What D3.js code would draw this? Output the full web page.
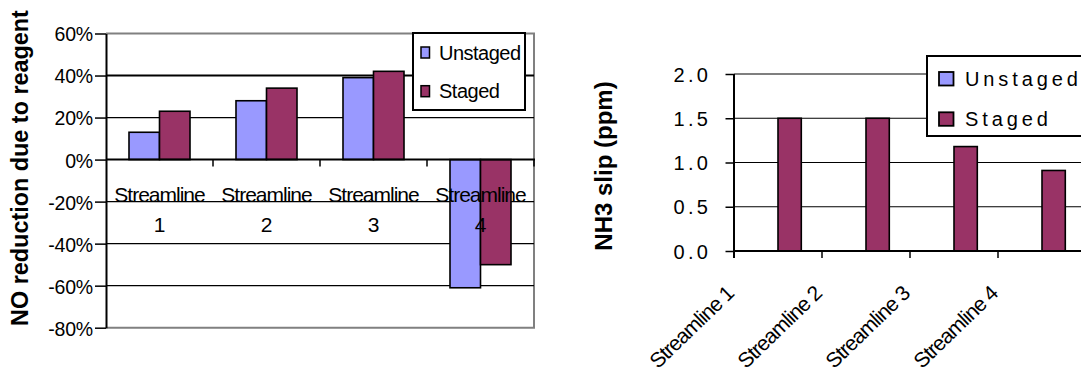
<!DOCTYPE html>
<html>
<head>
<meta charset="utf-8">
<script src="https://cdn.jsdelivr.net/npm/d3@7/dist/d3.min.js"></script>
<style>
  html, body { margin: 0; padding: 0; background: #fff; }
  svg { display: block; }
  svg text { font-family: "Liberation Sans", Arial, Helvetica, sans-serif; }
</style>
</head>
<body>
<svg id="chart" width="1081" height="376"></svg>
<script>
// Streamline categories and the two injection modes
const categories = ["Streamline 1", "Streamline 2", "Streamline 3", "Streamline 4"];
const seriesNames = ["Unstaged", "Staged"];

// NO reduction due to reagent (%)
const noUnstaged = [13, 28, 39, -61];
const noStaged = [23, 34, 42, -50];
const noTicks = [60, 40, 20, 0, -20, -40, -60, -80];

// NH3 slip (ppm)
const nh3Unstaged = [0, 0, 0, 0];
const nh3Staged = [1.5, 1.5, 1.18, 0.91];
const nh3Ticks = [0, 0.5, 1.0, 1.5, 2.0];

const colors = { Unstaged: "#9999ff", Staged: "#993366" };
const FONT = "'Liberation Sans', Arial, Helvetica, sans-serif";

const svg = d3.select("#chart");

function rows(unstaged, staged) {
  return categories.map((c, i) => ({ cat: c, values: [
    { key: "Unstaged", value: unstaged[i] },
    { key: "Staged", value: staged[i] }
  ]}));
}

/* ---------------- Left panel: NO reduction ---------------- */
{
  const g = svg.append("g");
  const x = d3.scaleBand().domain(categories).range([106, 534]);
  const xs = d3.scaleBand().domain(seriesNames).range([0, x.bandwidth()]).paddingOuter(0.754);
  const y = d3.scaleLinear().domain([-80, 60]).range([327.7, 33.5]);
  const [x0, x1] = x.range();

  // plot-area frame (top, right, bottom)
  g.append("path")
    .attr("d", `M${x0},${y(60)}H${x1}V${y(-80)}H${x0}`)
    .attr("fill", "none").attr("stroke", "#808080").attr("stroke-width", 2);

  // gridlines
  g.selectAll("line.grid").data(noTicks.filter(t => t !== 0 && t !== 60 && t !== -80))
    .join("line").attr("class", "grid")
    .attr("x1", x0).attr("x2", x1)
    .attr("y1", d => y(d)).attr("y2", d => y(d))
    .attr("stroke", "#000").attr("stroke-width", d => d === 40 ? 2 : 1.2);

  // bars
  const grp = g.selectAll("g.cat").data(rows(noUnstaged, noStaged)).join("g")
    .attr("transform", d => `translate(${x(d.cat)},0)`);
  grp.selectAll("rect").data(d => d.values).join("rect")
    .attr("x", d => xs(d.key)).attr("width", xs.bandwidth())
    .attr("y", d => y(Math.max(0, d.value)))
    .attr("height", d => Math.abs(y(d.value) - y(0)))
    .attr("fill", d => colors[d.key]).attr("stroke", "#000").attr("stroke-width", 1.6);

  // value axis
  const ya = g.append("g").attr("transform", `translate(${x0},0)`)
    .call(d3.axisLeft(y).tickValues(noTicks).tickSize(11).tickSizeOuter(0).tickPadding(2)
      .tickFormat(d => d + "%"));
  ya.attr("font-family", FONT);
  ya.select(".domain").attr("stroke", "#000").attr("stroke-width", 2);
  ya.selectAll(".tick line").attr("stroke", "#000").attr("stroke-width", 1.5);
  ya.selectAll(".tick text").attr("font-size", 19.5).attr("fill", "#000")
    .attr("letter-spacing", -0.2).attr("dy", "0.38em");

  // category axis at 0%
  g.append("line").attr("x1", x0).attr("x2", x1 + 1).attr("y1", y(0)).attr("y2", y(0))
    .attr("stroke", "#000").attr("stroke-width", 2);
  const bounds = categories.slice(1).map(c => x(c)).concat([x1]);
  g.selectAll("line.ctick").data(bounds).join("line").attr("class", "ctick")
    .attr("x1", d => d).attr("x2", d => d).attr("y1", y(0)).attr("y2", y(0) + 7)
    .attr("stroke", "#000").attr("stroke-width", 1.5);

  // category labels (two lines)
  const lab = g.selectAll("text.cat").data(categories).join("text").attr("class", "cat")
    .attr("text-anchor", "middle").attr("font-size", 21).attr("fill", "#000");
  lab.append("tspan").attr("x", d => x(d) + x.bandwidth() / 2).attr("y", 201.5)
    .attr("letter-spacing", -1).text(d => d.slice(0, d.lastIndexOf(" ")));
  lab.append("tspan").attr("x", d => x(d) + x.bandwidth() / 2).attr("y", 231.5)
    .text(d => d.slice(d.lastIndexOf(" ") + 1));

  // axis title
  g.append("text").attr("transform", "translate(28,168) rotate(-90)")
    .attr("text-anchor", "middle").attr("font-size", 23.4).attr("font-weight", "bold")
    .text("NO reduction due to reagent");

  // legend
  const lg = g.append("g").attr("transform", "translate(413,33)");
  lg.append("rect").attr("width", 112).attr("height", 77)
    .attr("fill", "#fff").attr("stroke", "#000").attr("stroke-width", 2);
  const li = lg.selectAll("g.item").data(seriesNames).join("g").attr("class", "item")
    .attr("transform", (d, i) => `translate(0,${i * 38.7})`);
  li.append("rect").attr("x", 8).attr("y", 14).attr("width", 8.5).attr("height", 11)
    .attr("fill", d => colors[d]).attr("stroke", "#000").attr("stroke-width", 1.5);
  li.append("text").attr("x", 26).attr("y", 26.5).attr("font-size", 20)
    .attr("letter-spacing", -0.5).text(d => d);
}

/* ---------------- Right panel: NH3 slip ---------------- */
{
  const g = svg.append("g");
  const x = d3.scaleBand().domain(categories).range([734, 1086]);
  const xs = d3.scaleBand().domain(seriesNames).range([0, x.bandwidth()]).paddingOuter(0.889);
  const y = d3.scaleLinear().domain([0, 2]).range([251, 74]);
  const [x0, x1] = x.range();

  // gridlines
  g.selectAll("line.grid").data(nh3Ticks.filter(t => t !== 0))
    .join("line").attr("class", "grid")
    .attr("x1", x0).attr("x2", x1)
    .attr("y1", d => y(d)).attr("y2", d => y(d))
    .attr("stroke", "#000").attr("stroke-width", 1.2);

  // bars
  const grp = g.selectAll("g.cat").data(rows(nh3Unstaged, nh3Staged)).join("g")
    .attr("transform", d => `translate(${x(d.cat)},0)`);
  grp.selectAll("rect").data(d => d.values.filter(v => v.value > 0)).join("rect")
    .attr("x", d => xs(d.key)).attr("width", xs.bandwidth())
    .attr("y", d => y(d.value))
    .attr("height", d => y(0) - y(d.value))
    .attr("fill", d => colors[d.key]).attr("stroke", "#000").attr("stroke-width", 1.6);

  // value axis
  const ya = g.append("g").attr("transform", `translate(${x0},0)`)
    .call(d3.axisLeft(y).tickValues(nh3Ticks).tickSize(8.5).tickSizeOuter(0).tickPadding(17.5)
      .tickFormat(d3.format(".1f")));
  ya.attr("font-family", FONT);
  ya.select(".domain").attr("stroke", "#000").attr("stroke-width", 2)
    .attr("d", `M0,${y(2)}V${y(0) + 7}`);
  ya.selectAll(".tick line").attr("stroke", "#000").attr("stroke-width", 1.5);
  ya.selectAll(".tick text").attr("font-size", 20).attr("fill", "#000")
    .attr("letter-spacing", 3.4).attr("dx", 3.4).attr("dy", "0.36em");

  // category axis
  g.append("line").attr("x1", x0).attr("x2", x1).attr("y1", y(0)).attr("y2", y(0))
    .attr("stroke", "#000").attr("stroke-width", 2);
  g.selectAll("line.ctick").data(categories.slice(1).map(c => x(c))).join("line")
    .attr("class", "ctick")
    .attr("x1", d => d).attr("x2", d => d).attr("y1", y(0)).attr("y2", y(0) + 7)
    .attr("stroke", "#000").attr("stroke-width", 1.5);

  // rotated category labels
  g.selectAll("text.cat").data(categories).join("text").attr("class", "cat")
    .attr("transform", d => `translate(${x(d) + 1},295) rotate(-44)`)
    .attr("text-anchor", "end").attr("font-size", 21).attr("letter-spacing", -0.9)
    .text(d => d);

  // axis title
  g.append("text").attr("transform", "translate(612,166) rotate(-90)")
    .attr("text-anchor", "middle").attr("font-size", 24).attr("font-weight", "bold")
    .text("NH3 slip (ppm)");

  // legend
  const lg = g.append("g").attr("transform", "translate(927,56)");
  lg.append("rect").attr("width", 200).attr("height", 80)
    .attr("fill", "#fff").attr("stroke", "#000").attr("stroke-width", 2);
  const li = lg.selectAll("g.item").data(seriesNames).join("g").attr("class", "item")
    .attr("transform", (d, i) => `translate(0,${i * 40.3})`);
  li.append("rect").attr("x", 12).attr("y", 16).attr("width", 14.5).attr("height", 13.5)
    .attr("fill", d => colors[d]).attr("stroke", "#000").attr("stroke-width", 1.8);
  li.append("text").attr("x", 38).attr("y", 30).attr("font-size", 20)
    .attr("letter-spacing", 3.9).text(d => d);
}
</script>
</body>
</html>
